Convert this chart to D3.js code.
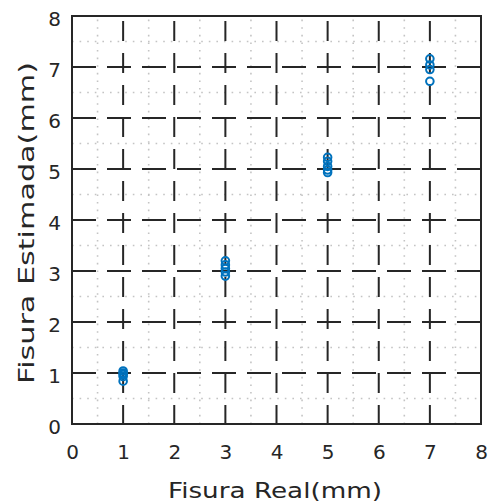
<!DOCTYPE html>
<html>
<head>
<meta charset="utf-8">
<script src="https://cdn.jsdelivr.net/npm/d3@7"></script>
<style>
  body { margin: 0; background: #fff; }
  text { font-family: "DejaVu Sans", sans-serif; fill: #262626; }
</style>
</head>
<body>
<svg id="chart" width="488" height="504"></svg>
<script>
// measured groups (real crack width) and estimated values
const realValues = [1, 3, 5, 7];
const estimated1 = [1.04, 1.0, 0.97, 0.93, 0.84];
const estimated3 = [3.2, 3.12, 3.05, 2.98, 2.9];
const estimated5 = [5.23, 5.15, 5.05, 4.98, 4.93];
const estimated7 = [7.16, 7.04, 6.95, 6.72];
const tickValues = [0, 1, 2, 3, 4, 5, 6, 7, 8];
const minorValues = [0.5, 1.5, 2.5, 3.5, 4.5, 5.5, 6.5, 7.5];

const points = [];
[estimated1, estimated3, estimated5, estimated7].forEach((arr, i) => {
  arr.forEach(v => points.push({ x: realValues[i], y: v }));
});

const margin = { top: 16, right: 7, bottom: 80, left: 72 };
const width = 488, height = 504;
const svg = d3.select("#chart");

const x = d3.scaleLinear().domain([0, 8]).range([margin.left, width - margin.right]);
const y = d3.scaleLinear().domain([0, 8]).range([height - margin.bottom, margin.top]);

// minor grid (dotted)
const minor = svg.append("g");
minor.selectAll(".vmin").data(minorValues).enter().append("line")
  .attr("x1", d => x(d)).attr("x2", d => x(d))
  .attr("y1", y(0)).attr("y2", y(8))
  .attr("stroke", "#c4c4c4").attr("stroke-width", 1.6)
  .attr("stroke-dasharray", "1.6,6");
minor.selectAll(".hmin").data(minorValues).enter().append("line")
  .attr("y1", d => y(d)).attr("y2", d => y(d))
  .attr("x1", x(0)).attr("x2", x(8))
  .attr("stroke", "#c4c4c4").attr("stroke-width", 1.6)
  .attr("stroke-dasharray", "1.6,6");

// major grid (dashed)
const major = svg.append("g");
major.selectAll(".vmaj").data(tickValues.slice(1, -1)).enter().append("line")
  .attr("x1", d => x(d)).attr("x2", d => x(d))
  .attr("y1", y(8)).attr("y2", y(0))
  .attr("stroke", "#262626").attr("stroke-width", 2)
  .attr("stroke-dasharray", "20,12").attr("stroke-dashoffset", 27);
major.selectAll(".hmaj").data(tickValues.slice(1, -1)).enter().append("line")
  .attr("y1", d => y(d)).attr("y2", d => y(d))
  .attr("x1", x(0)).attr("x2", x(8))
  .attr("stroke", "#262626").attr("stroke-width", 2)
  .attr("stroke-dasharray", "24,11");

// axes
const xAxis = svg.append("g")
  .attr("transform", `translate(0,${y(0)})`)
  .call(d3.axisBottom(x).tickValues(tickValues).tickSize(0).tickPadding(21));
const yAxis = svg.append("g")
  .attr("transform", `translate(${x(0)},0)`)
  .call(d3.axisLeft(y).tickValues(tickValues).tickSize(0).tickPadding(11));
[xAxis, yAxis].forEach(a => {
  a.select(".domain").remove();
  a.selectAll("text").style("font-size", "20px").attr("fill", "#262626");
});
yAxis.selectAll("text").attr("dy", "0.45em");

// box
svg.append("rect")
  .attr("x", x(0)).attr("y", y(8))
  .attr("width", x(8) - x(0)).attr("height", y(0) - y(8))
  .attr("fill", "none").attr("stroke", "#262626").attr("stroke-width", 2);

// points
svg.append("g").selectAll("circle").data(points).enter().append("circle")
  .attr("cx", d => x(d.x)).attr("cy", d => y(d.y))
  .attr("r", 3.8)
  .attr("fill", "none").attr("stroke", "#0072BD").attr("stroke-width", 2);

// labels
svg.append("text")
  .attr("x", 275).attr("y", 498)
  .attr("text-anchor", "middle").style("font-size", "22px")
  .attr("textLength", 214).attr("lengthAdjust", "spacingAndGlyphs")
  .text("Fisura Real(mm)");
svg.append("text")
  .attr("transform", "translate(34,223) rotate(-90)")
  .attr("text-anchor", "middle").style("font-size", "22px")
  .attr("textLength", 322).attr("lengthAdjust", "spacingAndGlyphs")
  .text("Fisura Estimada(mm)");
</script>
</body>
</html>
